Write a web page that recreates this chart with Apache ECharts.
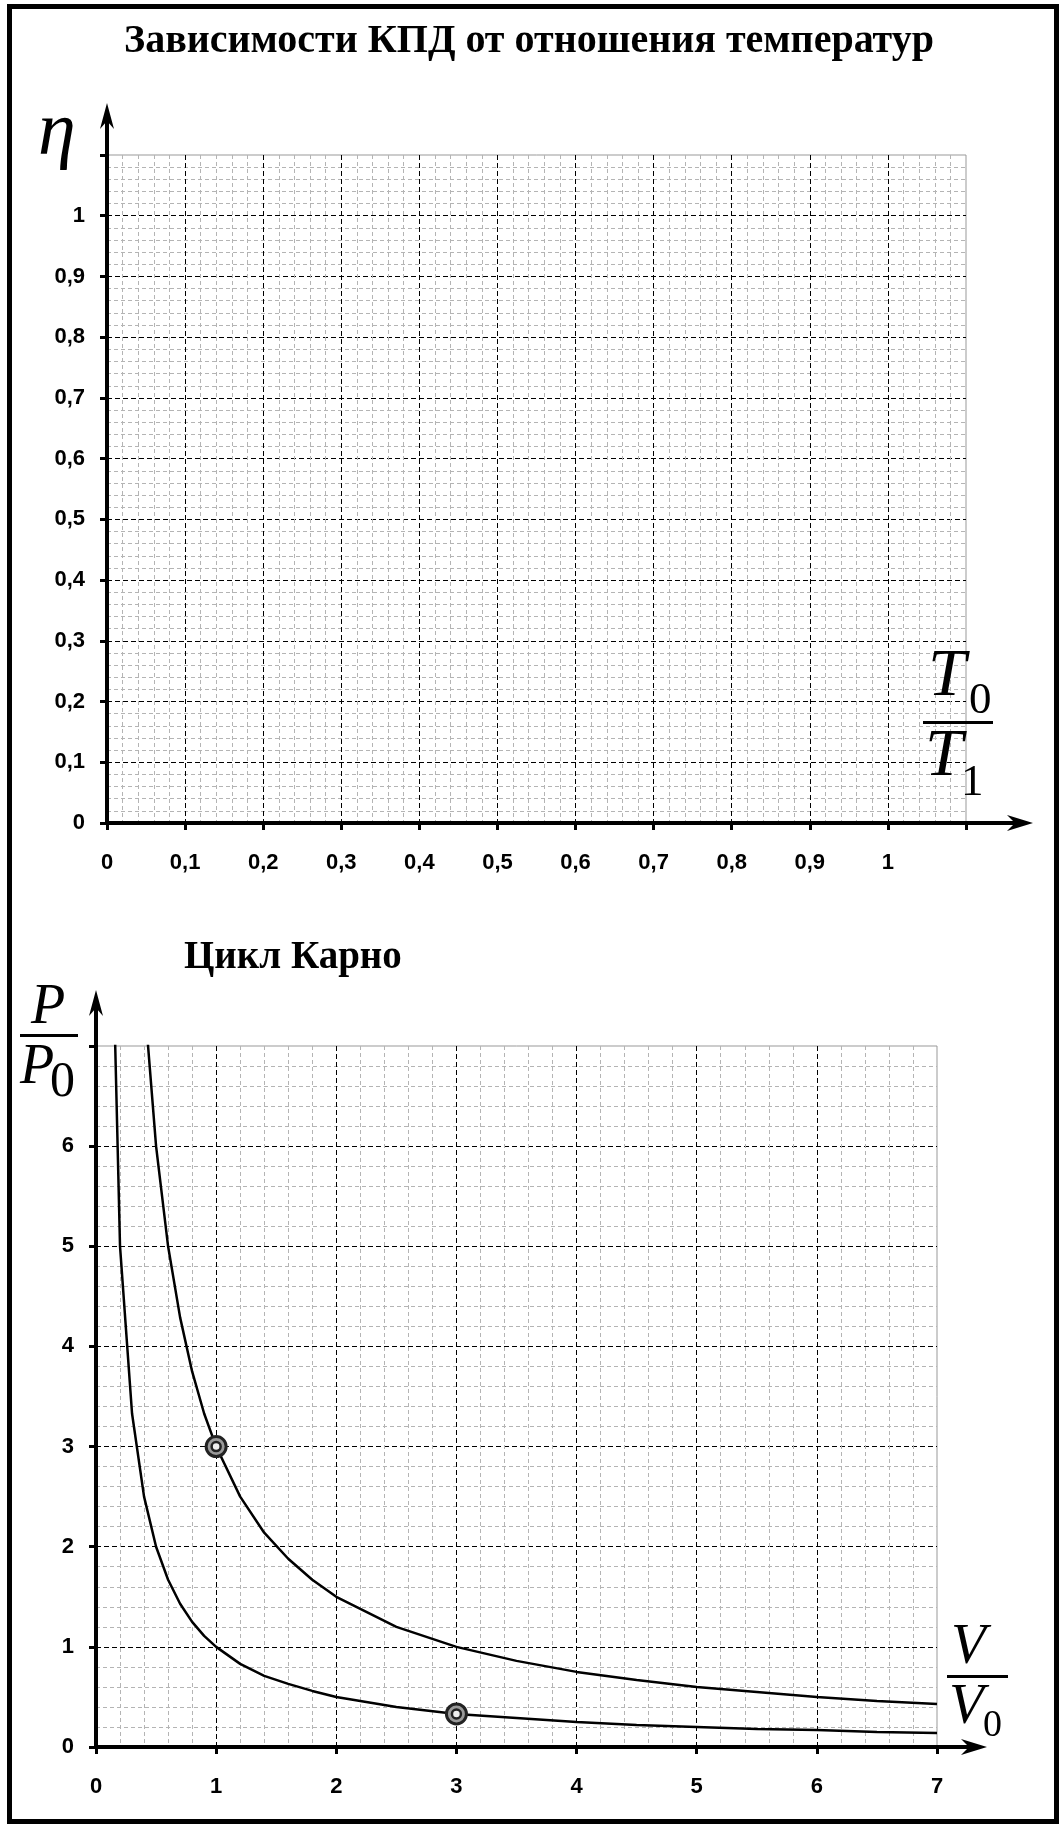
<!DOCTYPE html>
<html>
<head>
<meta charset="utf-8">
<title>КПД и цикл Карно</title>
<script src="https://cdn.jsdelivr.net/npm/echarts@6/dist/echarts.min.js"></script>
<style>
  html, body { margin: 0; padding: 0; background: #fff; }
  #chart { width: 1061px; height: 1827px; }
</style>
</head>
<body>
<div id="chart"></div>
<script>
// верхний график: пустая сетка для η(T0/T1)
const ratioMax = 1.1;
const ratioStep = 0.1;
const ratioLabels = ['0', '0,1', '0,2', '0,3', '0,4', '0,5', '0,6', '0,7', '0,8', '0,9', '1', ''];

// нижний график: цикл Карно
const volumeMax = 7;
const pressureMax = 7;
const volumeLabels = ['0', '1', '2', '3', '4', '5', '6', '7'];
const pressureLabels = ['0', '1', '2', '3', '4', '5', '6', ''];

// нижняя кривая (PV = 1)
const lowerV = [0.1, 0.2, 0.3, 0.4, 0.5, 0.6, 0.7, 0.8, 0.9, 1, 1.2, 1.4, 1.6, 1.8, 2, 2.5, 3, 3.5, 4, 4.5, 5, 5.5, 6, 6.5, 7];
const lowerP = [10, 5, 3.33, 2.5, 2, 1.67, 1.43, 1.25, 1.11, 1, 0.83, 0.71, 0.63, 0.56, 0.5, 0.4, 0.33, 0.29, 0.25, 0.22, 0.2, 0.18, 0.17, 0.15, 0.14];
// верхняя кривая (PV = 3)
const upperV = [0.3, 0.4, 0.5, 0.6, 0.7, 0.8, 0.9, 1, 1.2, 1.4, 1.6, 1.8, 2, 2.5, 3, 3.5, 4, 4.5, 5, 5.5, 6, 6.5, 7];
const upperP = [10, 7.5, 6, 5, 4.29, 3.75, 3.33, 3, 2.5, 2.14, 1.88, 1.67, 1.5, 1.2, 1, 0.86, 0.75, 0.67, 0.6, 0.55, 0.5, 0.46, 0.43];
// отмеченные точки
const pointV = [1, 3];
const pointP = [3, 0.33];

const zip = (a, b) => a.map((v, i) => [v, b[i]]);

function valueAxis(gridIndex, max, step, labels, margin) {
    return {
        type: 'value',
        gridIndex: gridIndex,
        min: 0,
        max: max,
        interval: step,
        axisLine: { show: true, onZero: false, lineStyle: { color: '#000', width: 4 } },
        axisTick: { show: true, length: 7, lineStyle: { color: '#000', width: 3 } },
        axisLabel: {
            margin: margin,
            color: '#000',
            fontFamily: 'Liberation Sans',
            fontWeight: 'bold',
            fontSize: 22,
            formatter: v => labels[Math.round(v / step)] ?? ''
        },
        splitLine: {
            show: true, showMinLine: false, showMaxLine: false,
            lineStyle: { color: '#000', width: 1, type: [5, 3] }
        },
        minorTick: { show: false, splitNumber: 5 },
        minorSplitLine: { show: true, lineStyle: { color: '#b4b4b4', width: 1, type: [4, 3] } }
    };
}

const chart = echarts.init(document.getElementById('chart'));

const option = {
    animation: false,
    backgroundColor: '#fff',
    grid: [
        { left: 107, top: 155, width: 859, height: 668, show: true, borderColor: '#999', borderWidth: 1 },
        { left: 96, top: 1046, width: 841, height: 701, show: true, borderColor: '#999', borderWidth: 1 }
    ],
    xAxis: [
        valueAxis(0, ratioMax, ratioStep, ratioLabels, 29),
        valueAxis(1, volumeMax, 1, volumeLabels, 29)
    ],
    yAxis: [
        valueAxis(0, ratioMax, ratioStep, ratioLabels, 22),
        valueAxis(1, pressureMax, 1, pressureLabels, 22)
    ],
    series: [
        {
            type: 'line', xAxisIndex: 1, yAxisIndex: 1,
            data: zip(lowerV, lowerP),
            showSymbol: false, clip: true,
            lineStyle: { color: '#000', width: 2.5 }
        },
        {
            type: 'line', xAxisIndex: 1, yAxisIndex: 1,
            data: zip(upperV, upperP),
            showSymbol: false, clip: true,
            lineStyle: { color: '#000', width: 2.5 }
        },
        {
            type: 'scatter', xAxisIndex: 1, yAxisIndex: 1,
            data: zip(pointV, pointP),
            symbolSize: 20, z: 5,
            itemStyle: { color: '#9a9a9a', borderColor: '#222', borderWidth: 3, opacity: 1 }
        },
        {
            type: 'scatter', xAxisIndex: 1, yAxisIndex: 1,
            data: zip(pointV, pointP),
            symbolSize: 9, z: 6,
            itemStyle: { color: '#eee', borderColor: '#222', borderWidth: 2.5, opacity: 1 }
        }
    ]
};
chart.setOption(option);

// стрелки осей продолжают оси за пределы сетки
function arrowRight(x0, y, tip) {
    return [
        { type: 'line', z: 100, shape: { x1: x0, y1: y, x2: tip - 14, y2: y }, style: { stroke: '#000', lineWidth: 4 } },
        { type: 'polygon', z: 100, shape: { points: [[tip, y], [tip - 26, y - 8], [tip - 18, y], [tip - 26, y + 8]] }, style: { fill: '#000' } }
    ];
}
function arrowUp(x, y0, tip) {
    return [
        { type: 'line', z: 100, shape: { x1: x, y1: y0, x2: x, y2: tip + 14 }, style: { stroke: '#000', lineWidth: 4 } },
        { type: 'polygon', z: 100, shape: { points: [[x, tip], [x - 7, tip + 26], [x, tip + 18], [x + 7, tip + 26]] }, style: { fill: '#000' } }
    ];
}

const t0 = chart.convertToPixel({ gridIndex: 0 }, [0, 0]);
const t1 = chart.convertToPixel({ gridIndex: 0 }, [ratioMax, ratioMax]);
const b0 = chart.convertToPixel({ gridIndex: 1 }, [0, 0]);
const b1 = chart.convertToPixel({ gridIndex: 1 }, [volumeMax, pressureMax]);

const serif = '"Liberation Serif", "Times New Roman", serif';
function txt(text, x, y, font, align) {
    return { type: 'text', z: 100, x: x, y: y, style: { text: text, font: font, fill: '#000', align: align || 'left', verticalAlign: 'middle' } };
}
function bar(x1, x2, y) {
    return { type: 'rect', z: 100, shape: { x: x1, y: y, width: x2 - x1, height: 3 }, style: { fill: '#000' } };
}

const graphics = [
    { type: 'rect', z: 100, shape: { x: 9.5, y: 6.5, width: 1047, height: 1815 }, style: { fill: 'none', stroke: '#000', lineWidth: 5 } },
    txt('Зависимости КПД от отношения температур', 529, 42, 'bold 40px ' + serif, 'center'),
    txt('Цикл Карно', 184, 958, 'bold 39px ' + serif),
    txt('η', 38, 134, 'italic 76px ' + serif),
    // T0 / T1
    txt('T', 928, 677, 'italic 68px ' + serif),
    txt('0', 969, 701, '45px ' + serif),
    bar(923, 993, 721),
    txt('T', 925, 757, 'italic 68px ' + serif),
    txt('1', 961, 783, '45px ' + serif),
    // V / V0
    txt('V', 951, 1648, 'italic 57px ' + serif),
    bar(947, 1008, 1675),
    txt('V', 949, 1708, 'italic 57px ' + serif),
    txt('0', 983, 1726, '38px ' + serif),
    // P / P0
    txt('P', 31, 1008, 'italic 56px ' + serif),
    bar(20, 78, 1034),
    txt('P', 20, 1068, 'italic 56px ' + serif),
    txt('0', 50, 1083, '50px ' + serif)
].concat(
    arrowRight(t1[0], t0[1], 1033),
    arrowUp(t0[0], t1[1], 103),
    arrowRight(b1[0], b0[1], 987),
    arrowUp(b0[0], b1[1], 990)
);

chart.setOption({ graphic: graphics });
</script>
</body>
</html>
